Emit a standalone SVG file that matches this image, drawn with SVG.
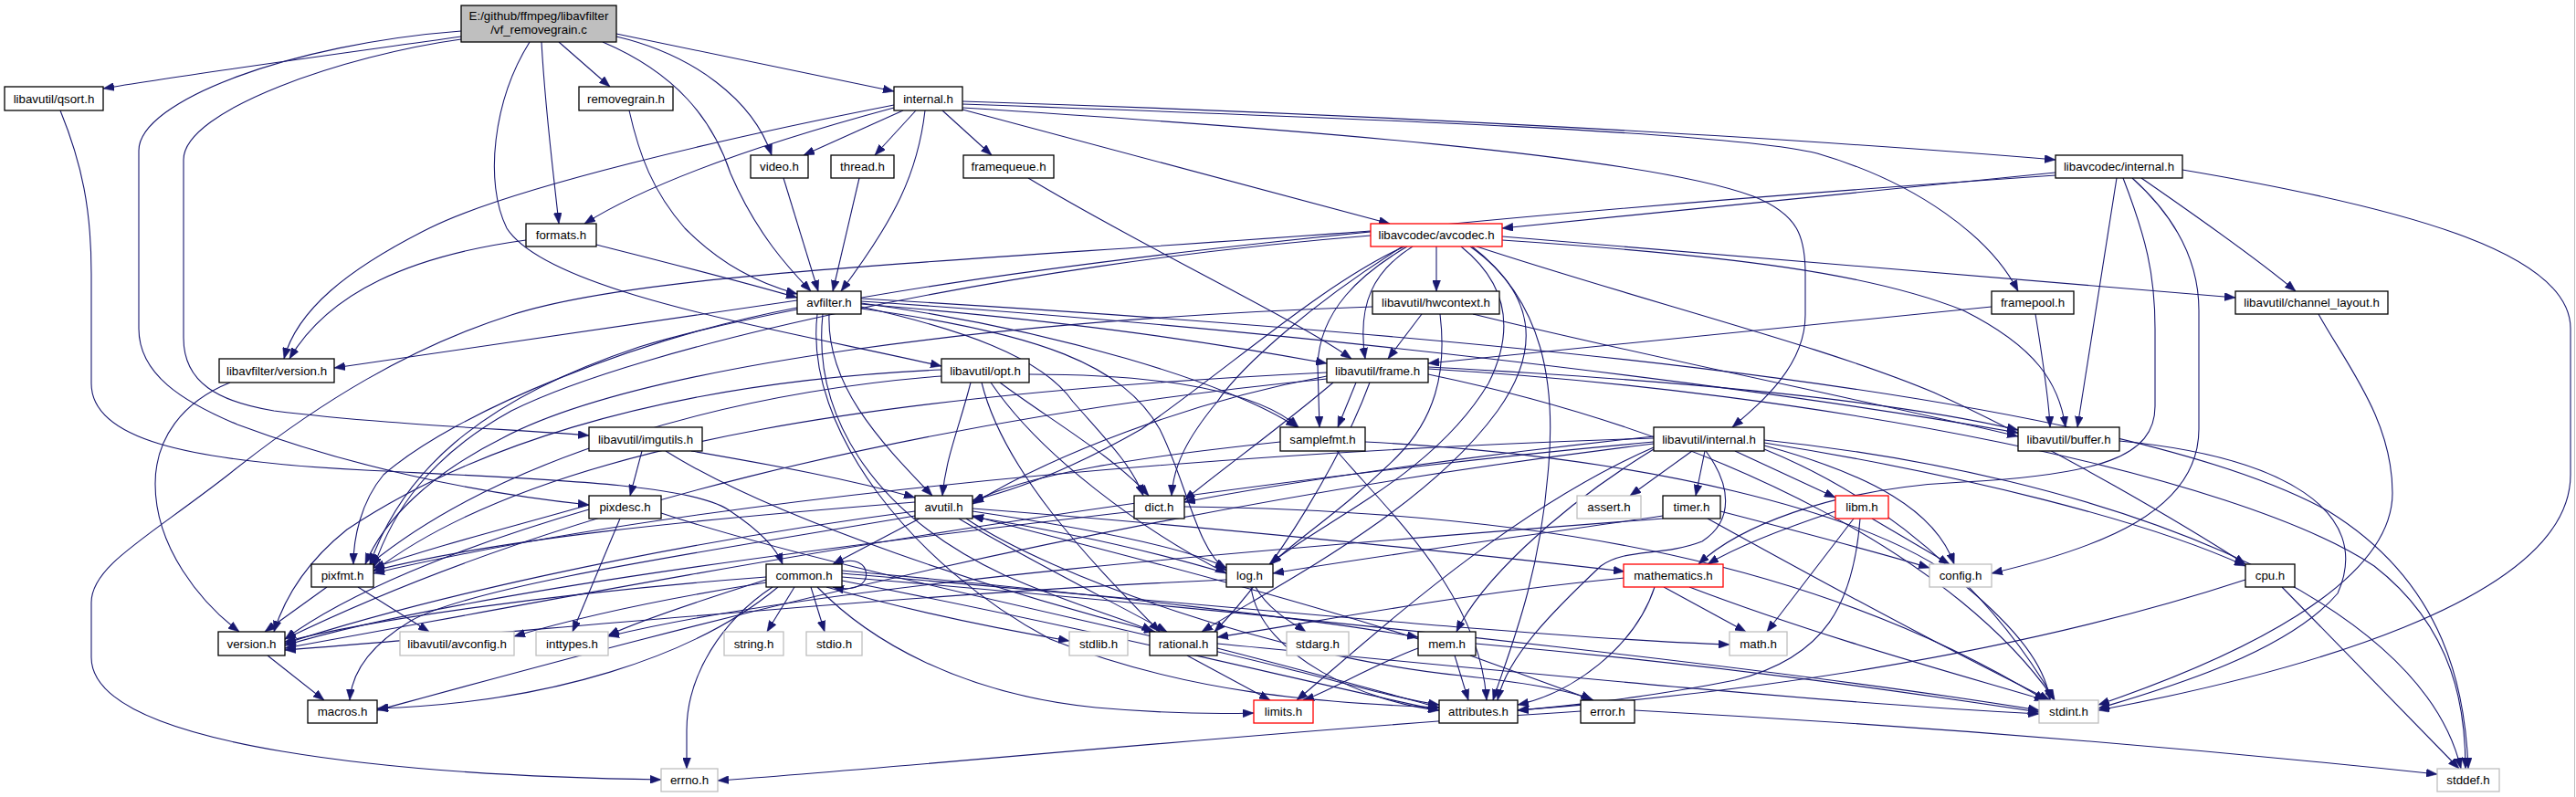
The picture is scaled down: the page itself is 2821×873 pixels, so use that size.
<svg xmlns="http://www.w3.org/2000/svg" width="2821" height="873" viewBox="0 0 2821 873">
<style>
.n rect{fill:#fff;stroke:#000;stroke-width:1.3}
.g rect{fill:#fff;stroke:#bfbfbf;stroke-width:1.3}
.r rect{fill:#fff;stroke:#ff0000;stroke-width:1.3}
.root rect{fill:#bfbfbf;stroke:#000;stroke-width:1.3}
text{font-family:"Liberation Sans",Arial,sans-serif;font-size:13.3px;fill:#000;text-anchor:middle}
#edges path{fill:none;stroke:#191970;stroke-width:1.1;marker-end:url(#a)}
</style>
<defs>
<marker id="a" markerWidth="12" markerHeight="9" refX="12" refY="4.5" orient="auto" markerUnits="userSpaceOnUse"><path d="M0,0 L12,4.5 L0,9 z" fill="#191970" stroke="#191970" stroke-width="0.5"/></marker>
</defs>
<rect x="0" y="0" width="2821" height="873" fill="#fff"/>
<line x1="2819.5" y1="0" x2="2819.5" y2="873" stroke="#bfbfbf" stroke-width="1"/>
<g id="edges">
<path d="M505,40 C400,55 200,82 113,97"/>
<path d="M505,43 C380,60 201,120 201,175 L201,370 C201,420 240,440 300,450 C420,465 560,470 645,477"/>
<path d="M505,34 C320,48 152,110 152,165 L152,360 C152,410 200,440 260,465 C380,510 520,540 645,553"/>
<path d="M612,46 L668,95"/>
<path d="M593,46 C597,120 605,180 612,245"/>
<path d="M660,46 C740,80 780,130 800,190 C830,260 870,300 888,319"/>
<path d="M675,40 C760,60 825,110 845,170"/>
<path d="M675,37 L979,100"/>
<path d="M580,46 C540,110 530,200 555,250 C600,320 850,360 1031,401"/>
<path d="M689,121 C700,170 715,210 750,250 C790,290 830,310 873,322"/>
<path d="M653,268 C740,290 800,305 873,326"/>
<path d="M576,263 C450,280 360,320 317,393"/>
<path d="M858,195 L896,319"/>
<path d="M941,195 L912,319"/>
<path d="M989,121 L880,170"/>
<path d="M1003,121 L958,170"/>
<path d="M1032,121 L1086,170"/>
<path d="M1013,121 C1005,190 980,240 921,319"/>
<path d="M979,115 C800,150 560,205 470,250 C380,295 325,340 311,393"/>
<path d="M979,118 C860,150 720,195 640,245"/>
<path d="M1054,120 L1522,245"/>
<path d="M1054,111 C1500,125 1950,150 2251,175"/>
<path d="M1054,114 C1500,130 1900,145 1990,168 C2100,200 2180,260 2210,319"/>
<path d="M1054,118 C1400,140 1800,170 1920,215 C1970,235 1977,260 1977,300 L1977,345 C1977,400 1930,440 1897,468"/>
<path d="M1126,195 C1250,270 1420,350 1480,393"/>
<path d="M2181,336 L1564,398"/>
<path d="M2229,344 C2238,400 2244,440 2245,468"/>
<path d="M2251,189 L1645,250"/>
<path d="M2251,192 C1700,230 1000,290 700,380 C520,440 440,520 405,618"/>
<path d="M2318,195 L2275,468"/>
<path d="M2325,195 C2350,260 2360,300 2360,360 L2360,445 C2360,500 2300,520 2150,528 C2000,535 1900,580 1860,618"/>
<path d="M2335,195 C2385,240 2408,290 2408,340 L2408,470 C2408,560 2300,600 2181,628"/>
<path d="M2345,195 C2410,240 2480,290 2514,319"/>
<path d="M2390,186 C2650,230 2815,280 2815,360 L2815,520 C2815,660 2500,740 2298,778"/>
<path d="M1573,270 L1573,319"/>
<path d="M1501,253 C1000,290 700,300 560,345 C450,380 350,440 250,520 C160,590 100,620 100,660 L100,720 C100,820 450,850 724,854"/>
<path d="M1541,270 C1490,300 1445,340 1443,400 L1445,468"/>
<path d="M1547,270 C1504,297 1486,333 1495,393"/>
<path d="M1538,270 C1450,310 1350,400 1250,470 C1180,510 1120,535 1065,548"/>
<path d="M1536,270 C1440,330 1360,400 1333,440 C1300,480 1285,510 1283,543"/>
<path d="M1600,270 C1650,310 1660,360 1630,420 C1570,520 1450,570 1390,618"/>
<path d="M1610,270 C1680,320 1690,380 1640,450 C1560,560 1400,640 1316,692"/>
<path d="M1617,270 C1800,330 2000,380 2118,430 C2250,490 2400,580 2459,618"/>
<path d="M1612,270 C1690,330 1705,420 1695,520 C1685,640 1650,720 1635,767"/>
<path d="M1645,263 C1900,280 2050,300 2150,340 C2230,380 2255,420 2262,468"/>
<path d="M1645,259 L2448,326"/>
<path d="M1501,258 C1100,290 700,380 560,450 C470,500 430,560 409,622"/>
<path d="M943,327 C1500,360 2300,420 2550,560 C2680,640 2700,760 2703,842"/>
<path d="M908,344 C905,420 960,480 1021,543"/>
<path d="M901,344 C890,450 950,560 1100,630 C1180,665 1240,680 1262,692"/>
<path d="M895,344 C880,470 1000,620 1150,700 C1300,760 1450,770 1576,775"/>
<path d="M943,330 C1400,360 1900,420 2210,474"/>
<path d="M943,336 C1050,360 1140,390 1175,440 C1210,480 1240,510 1252,543"/>
<path d="M943,333 C1150,350 1300,370 1453,398"/>
<path d="M943,338 C1140,365 1230,400 1270,470 C1300,530 1310,600 1343,625"/>
<path d="M943,332 C1150,360 1350,420 1420,468"/>
<path d="M873,337 C700,370 500,450 420,520 C395,550 387,590 387,618"/>
<path d="M873,329 L366,403"/>
<path d="M1613,344 C1800,390 2050,440 2210,478"/>
<path d="M1557,344 L1520,393"/>
<path d="M1577,344 C1585,410 1570,460 1530,500 C1470,560 1420,590 1392,618"/>
<path d="M1503,336 C1100,350 700,400 550,480 C470,520 420,570 400,618"/>
<path d="M2539,344 C2570,400 2620,460 2620,540 C2620,640 2450,720 2298,772"/>
<path d="M252,419 C200,440 170,480 170,530 C170,600 220,660 262,692"/>
<path d="M1063,419 C1050,470 1036,500 1032,543"/>
<path d="M1075,419 C1100,520 1200,620 1270,692"/>
<path d="M1095,419 C1150,460 1220,500 1258,543"/>
<path d="M1085,419 C1140,500 1250,580 1343,628"/>
<path d="M1031,412 C800,430 550,500 405,618"/>
<path d="M1127,410 C1280,410 1380,430 1422,468"/>
<path d="M1031,405 C700,420 500,500 380,580 C330,620 310,660 300,692"/>
<path d="M1564,404 C2000,430 2450,520 2600,620 C2690,690 2700,780 2700,842"/>
<path d="M1564,410 C1900,480 2150,620 2250,767"/>
<path d="M1453,412 C1300,440 1150,500 1065,552"/>
<path d="M1564,402 C1900,420 2100,445 2210,471"/>
<path d="M1460,419 C1400,470 1330,520 1297,548"/>
<path d="M1500,419 C1470,500 1400,620 1330,692"/>
<path d="M1485,419 L1465,468"/>
<path d="M1453,408 C1000,430 600,480 409,626"/>
<path d="M1453,415 C1000,460 600,560 312,700"/>
<path d="M757,494 C850,510 930,525 1002,545"/>
<path d="M703,494 L690,543"/>
<path d="M729,494 C850,570 1100,650 1265,692"/>
<path d="M1495,484 C1800,500 2050,560 2150,640 C2210,690 2240,730 2245,767"/>
<path d="M1402,484 C1250,500 1120,520 1065,550"/>
<path d="M1464,494 C1520,560 1620,650 1628,767"/>
<path d="M679,568 L627,692"/>
<path d="M724,562 C900,620 1200,680 1400,730 C1480,750 1530,765 1576,772"/>
<path d="M645,553 C550,580 470,600 409,622"/>
<path d="M645,558 C500,600 380,650 312,700"/>
<path d="M1007,568 L912,618"/>
<path d="M1058,568 C1150,630 1400,720 1600,740 C1690,750 1730,760 1743,767"/>
<path d="M1050,568 C1120,610 1220,660 1278,692"/>
<path d="M1002,560 C700,600 450,660 312,705"/>
<path d="M1002,565 C800,600 520,640 450,680 C400,710 385,740 383,767"/>
<path d="M1065,557 C1300,575 1600,605 1779,626"/>
<path d="M1065,560 C1200,580 1300,600 1343,622"/>
<path d="M1002,550 C750,570 550,590 409,625"/>
<path d="M917,618 C955,600 965,655 912,643"/>
<path d="M870,643 L840,692"/>
<path d="M888,643 L903,692"/>
<path d="M846,643 C790,680 752,740 752,800 L752,842"/>
<path d="M905,643 C1000,670 1100,690 1171,702"/>
<path d="M839,635 C760,660 700,680 666,696"/>
<path d="M839,638 C700,660 620,680 563,697"/>
<path d="M839,632 C600,650 400,680 312,703"/>
<path d="M852,643 C760,720 600,770 413,776"/>
<path d="M895,643 C950,700 1050,760 1200,775 C1280,782 1340,782 1373,781"/>
<path d="M922,628 C1300,660 1700,700 1894,706"/>
<path d="M922,632 C1500,680 2000,740 2233,778"/>
<path d="M922,636 C1200,690 1400,740 1576,778"/>
<path d="M922,625 C1200,650 1450,680 1553,698"/>
<path d="M1375,643 C1390,670 1420,685 1430,692"/>
<path d="M1343,628 C1250,600 1150,580 1065,566"/>
<path d="M1370,643 C1380,720 1500,770 1576,778"/>
<path d="M1343,635 C1000,650 600,690 312,712"/>
<path d="M1333,705 C1700,740 2000,770 2233,782"/>
<path d="M1300,718 L1391,767"/>
<path d="M1333,710 C1450,740 1520,760 1576,775"/>
<path d="M1850,643 C2000,700 2150,740 2240,767"/>
<path d="M1822,643 L1912,692"/>
<path d="M1812,643 C1790,710 1720,760 1662,772"/>
<path d="M1779,633 C1600,650 1450,680 1333,698"/>
<path d="M1553,710 C1500,730 1450,760 1427,767"/>
<path d="M1616,705 C1900,730 2100,760 2233,780"/>
<path d="M1593,718 L1608,767"/>
<path d="M1610,718 L1745,767"/>
<path d="M1553,700 C1400,650 1200,600 1065,565"/>
<path d="M1731,779 C1400,800 1000,840 786,855"/>
<path d="M1790,778 C2200,800 2500,830 2669,848"/>
<path d="M392,643 L470,692"/>
<path d="M358,643 L290,692"/>
<path d="M293,718 L355,767"/>
<path d="M1297,555 C1700,560 2000,620 2240,767"/>
<path d="M1242,560 C900,600 500,650 312,707"/>
<path d="M2321,483 C2500,500 2600,560 2560,650 C2500,720 2350,760 2298,776"/>
<path d="M2459,635 C2200,720 1900,760 1662,778"/>
<path d="M2499,643 L2693,842"/>
<path d="M1884,560 C2000,590 2080,612 2113,622"/>
<path d="M1870,568 C2000,640 2150,720 2245,767"/>
<path d="M1821,565 C1650,590 1500,610 1394,628"/>
<path d="M1821,568 C1400,600 900,640 666,697"/>
<path d="M2030,568 L1935,692"/>
<path d="M2050,568 L2135,618"/>
<path d="M2037,568 C2030,660 2000,720 1900,745 C1800,765 1700,775 1662,778"/>
<path d="M2010,560 C1950,580 1900,600 1870,618"/>
<path d="M1853,494 L1785,543"/>
<path d="M1867,494 L1857,543"/>
<path d="M1900,494 L2010,545"/>
<path d="M1932,488 C2050,520 2120,560 2140,618"/>
<path d="M1932,485 C2150,520 2350,570 2459,620"/>
<path d="M1932,492 C2100,560 2200,680 2250,767"/>
<path d="M1932,482 C2300,520 2650,650 2695,842"/>
<path d="M1868,494 C1895,530 1900,570 1864,593 C1820,610 1780,600 1753,620 C1700,670 1650,720 1640,767"/>
<path d="M1811,490 C1650,560 1500,700 1420,767"/>
<path d="M1811,478 C1600,500 1400,530 1297,550"/>
<path d="M1811,486 C1200,560 700,700 413,778"/>
<path d="M1811,492 C1700,560 1620,640 1595,692"/>
<path d="M1811,480 C1200,500 700,560 409,628"/>
<path d="M1811,484 C1200,540 700,640 312,710"/>
<path d="M66,121 C90,180 100,230 100,300 L100,420 C100,480 200,505 400,515 C600,525 760,530 800,560 C830,580 850,600 857,618"/>
</g>
<g id="n_root" class="root"><rect x="505" y="6" width="170" height="40"/><text x="590" y="21.5">E:/github/ffmpeg/libavfilter</text><text x="590" y="37">/vf_removegrain.c</text></g>
<g id="n_qsort" class="n"><rect x="5" y="95" width="108" height="26"/><text x="59" y="112.5">libavutil/qsort.h</text></g>
<g id="n_removegrain" class="n"><rect x="634" y="95" width="103" height="26"/><text x="685.5" y="112.5">removegrain.h</text></g>
<g id="n_internal" class="n"><rect x="979" y="95" width="75" height="26"/><text x="1016.5" y="112.5">internal.h</text></g>
<g id="n_video" class="n"><rect x="822" y="170" width="63" height="25"/><text x="853.5" y="187">video.h</text></g>
<g id="n_thread" class="n"><rect x="910" y="170" width="69" height="25"/><text x="944.5" y="187">thread.h</text></g>
<g id="n_framequeue" class="n"><rect x="1055" y="170" width="99" height="25"/><text x="1104.5" y="187">framequeue.h</text></g>
<g id="n_lavc_internal" class="n"><rect x="2251" y="170" width="139" height="25"/><text x="2320.5" y="187">libavcodec/internal.h</text></g>
<g id="n_formats" class="n"><rect x="576" y="245" width="77" height="25"/><text x="614.5" y="262">formats.h</text></g>
<g id="n_avcodec" class="r"><rect x="1501" y="245" width="144" height="25"/><text x="1573" y="262">libavcodec/avcodec.h</text></g>
<g id="n_avfilter" class="n"><rect x="873" y="319" width="70" height="25"/><text x="908" y="336">avfilter.h</text></g>
<g id="n_hwcontext" class="n"><rect x="1503" y="319" width="139" height="25"/><text x="1572.5" y="336">libavutil/hwcontext.h</text></g>
<g id="n_framepool" class="n"><rect x="2181" y="319" width="90" height="25"/><text x="2226" y="336">framepool.h</text></g>
<g id="n_channel_layout" class="n"><rect x="2448" y="319" width="167" height="25"/><text x="2531.5" y="336">libavutil/channel_layout.h</text></g>
<g id="n_lfversion" class="n"><rect x="240" y="393" width="126" height="26"/><text x="303" y="410.5">libavfilter/version.h</text></g>
<g id="n_opt" class="n"><rect x="1031" y="393" width="96" height="26"/><text x="1079" y="410.5">libavutil/opt.h</text></g>
<g id="n_frame" class="n"><rect x="1453" y="393" width="111" height="26"/><text x="1508.5" y="410.5">libavutil/frame.h</text></g>
<g id="n_imgutils" class="n"><rect x="645" y="468" width="124" height="26"/><text x="707" y="485.5">libavutil/imgutils.h</text></g>
<g id="n_samplefmt" class="n"><rect x="1402" y="468" width="93" height="26"/><text x="1448.5" y="485.5">samplefmt.h</text></g>
<g id="n_lavu_internal" class="n"><rect x="1811" y="468" width="121" height="26"/><text x="1871.5" y="485.5">libavutil/internal.h</text></g>
<g id="n_buffer" class="n"><rect x="2210" y="468" width="111" height="26"/><text x="2265.5" y="485.5">libavutil/buffer.h</text></g>
<g id="n_pixdesc" class="n"><rect x="645" y="543" width="79" height="25"/><text x="684.5" y="560">pixdesc.h</text></g>
<g id="n_avutil" class="n"><rect x="1002" y="543" width="63" height="25"/><text x="1033.5" y="560">avutil.h</text></g>
<g id="n_dict" class="n"><rect x="1242" y="543" width="55" height="25"/><text x="1269.5" y="560">dict.h</text></g>
<g id="n_assert" class="g"><rect x="1727" y="543" width="70" height="25"/><text x="1762" y="560">assert.h</text></g>
<g id="n_timer" class="n"><rect x="1821" y="543" width="63" height="25"/><text x="1852.5" y="560">timer.h</text></g>
<g id="n_libm" class="r"><rect x="2010" y="543" width="58" height="25"/><text x="2039" y="560">libm.h</text></g>
<g id="n_pixfmt" class="n"><rect x="341" y="618" width="68" height="25"/><text x="375" y="635">pixfmt.h</text></g>
<g id="n_common" class="n"><rect x="839" y="618" width="83" height="25"/><text x="880.5" y="635">common.h</text></g>
<g id="n_log" class="n"><rect x="1343" y="618" width="51" height="25"/><text x="1368.5" y="635">log.h</text></g>
<g id="n_mathematics" class="r"><rect x="1778" y="618" width="109" height="25"/><text x="1832.5" y="635">mathematics.h</text></g>
<g id="n_config" class="g"><rect x="2113" y="618" width="68" height="25"/><text x="2147" y="635">config.h</text></g>
<g id="n_cpu" class="n"><rect x="2459" y="618" width="54" height="25"/><text x="2486" y="635">cpu.h</text></g>
<g id="n_version" class="n"><rect x="239" y="692" width="73" height="26"/><text x="275.5" y="709.5">version.h</text></g>
<g id="n_avconfig" class="g"><rect x="438" y="692" width="125" height="26"/><text x="500.5" y="709.5">libavutil/avconfig.h</text></g>
<g id="n_inttypes" class="g"><rect x="587" y="692" width="79" height="26"/><text x="626.5" y="709.5">inttypes.h</text></g>
<g id="n_string" class="g"><rect x="793" y="692" width="65" height="26"/><text x="825.5" y="709.5">string.h</text></g>
<g id="n_stdio" class="g"><rect x="883" y="692" width="61" height="26"/><text x="913.5" y="709.5">stdio.h</text></g>
<g id="n_stdlib" class="g"><rect x="1171" y="692" width="64" height="26"/><text x="1203" y="709.5">stdlib.h</text></g>
<g id="n_rational" class="n"><rect x="1259" y="692" width="74" height="26"/><text x="1296" y="709.5">rational.h</text></g>
<g id="n_stdarg" class="g"><rect x="1409" y="692" width="68" height="26"/><text x="1443" y="709.5">stdarg.h</text></g>
<g id="n_mem" class="n"><rect x="1553" y="692" width="63" height="26"/><text x="1584.5" y="709.5">mem.h</text></g>
<g id="n_math" class="g"><rect x="1894" y="692" width="63" height="26"/><text x="1925.5" y="709.5">math.h</text></g>
<g id="n_macros" class="n"><rect x="337" y="767" width="76" height="25"/><text x="375" y="784">macros.h</text></g>
<g id="n_limits" class="r"><rect x="1373" y="767" width="65" height="25"/><text x="1405.5" y="784">limits.h</text></g>
<g id="n_attributes" class="n"><rect x="1576" y="767" width="86" height="25"/><text x="1619" y="784">attributes.h</text></g>
<g id="n_error" class="n"><rect x="1731" y="767" width="59" height="25"/><text x="1760.5" y="784">error.h</text></g>
<g id="n_stdint" class="g"><rect x="2233" y="767" width="65" height="25"/><text x="2265.5" y="784">stdint.h</text></g>
<g id="n_errno" class="g"><rect x="724" y="842" width="62" height="25"/><text x="755" y="859">errno.h</text></g>
<g id="n_stddef" class="g"><rect x="2669" y="842" width="68" height="25"/><text x="2703" y="859">stddef.h</text></g>
</svg>
